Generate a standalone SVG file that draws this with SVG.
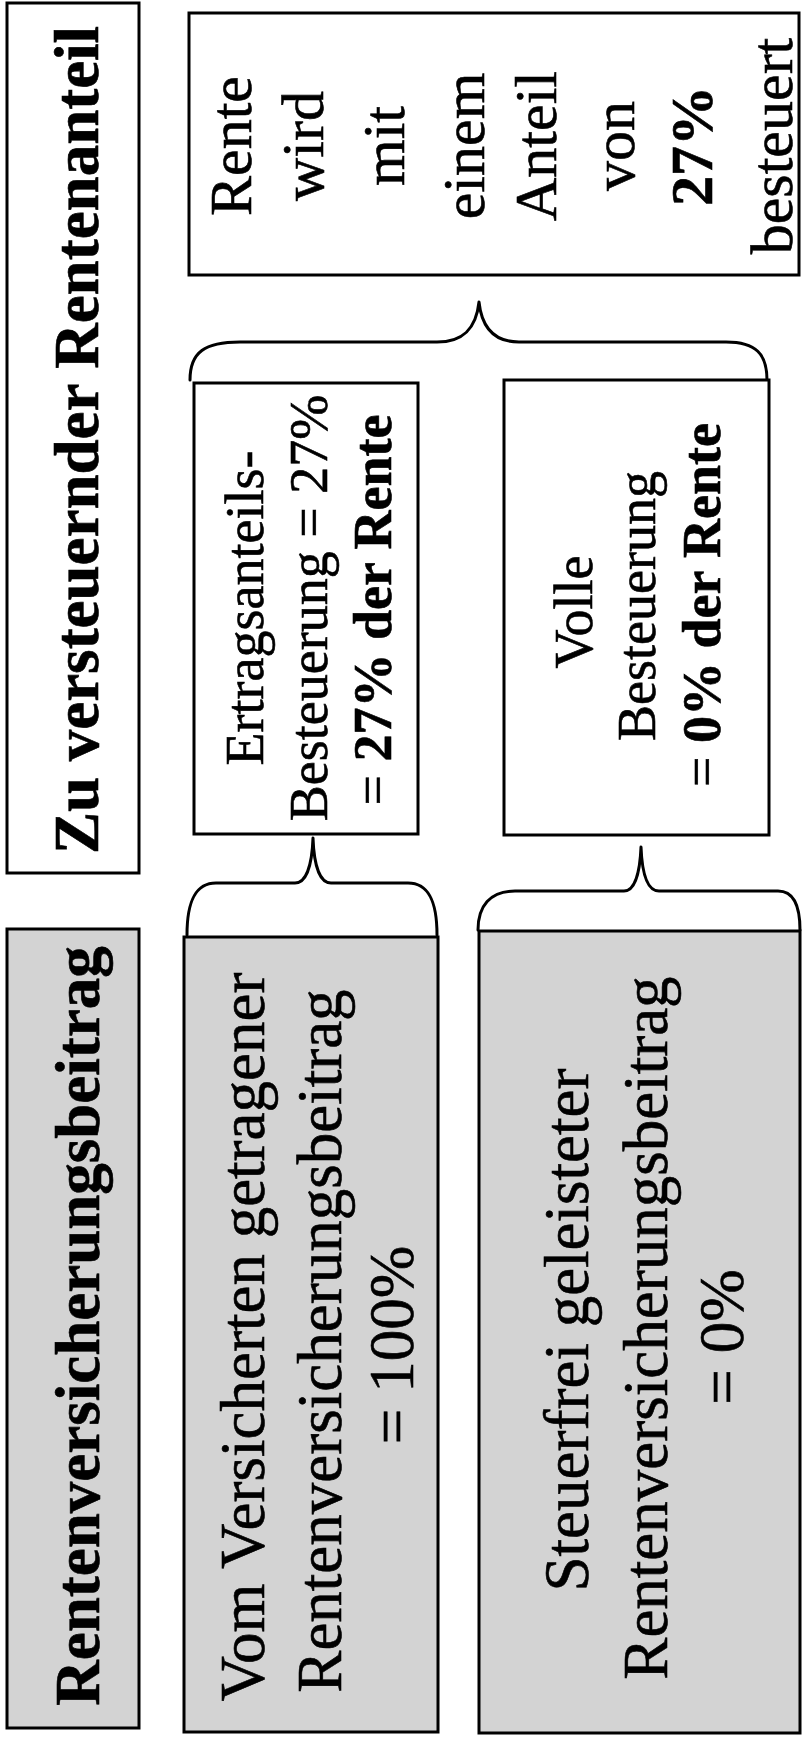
<svg xmlns="http://www.w3.org/2000/svg" width="802" height="1739" viewBox="0 0 802 1739">
  <style>
    .box { fill: #ffffff; stroke: #000000; stroke-width: 3; }
    .shade { fill: #d3d3d3; stroke: #000000; stroke-width: 3; }
    .brace { fill: none; stroke: #000000; stroke-width: 3; stroke-linecap: round; stroke-linejoin: round; }
    text { font-family: "Liberation Serif", "Times New Roman", serif; fill: #000000; text-anchor: middle; stroke: #000000; stroke-width: 0.6; }
    .title { font-size: 63px; font-weight: bold; }
    .big { font-size: 63px; }
    .mid { font-size: 60px; }
    .small { font-size: 54px; }
    .b { font-weight: bold; }
  </style>

  <rect width="802" height="1739" fill="#ffffff"/>

  <!-- curly braces joining the boxes -->
  <g id="connectors">
    <path class="brace" d="M190 380 C190 352 205 342 240 342 L437 342 C462 342 476 330 479 302 C482 330 496 342 519 342 L726 342 C756 342 767 354 767 380"/>
    <path class="brace" d="M187 935 C187 902 195 883 216 883 L295 883 C306 883 312 866 313 838 C314 866 320 883 331 883 L408 883 C429 883 437 902 437 935"/>
    <path class="brace" d="M478 930 C478 906 490 891 515 891 L624 891 C635 891 640 872 641 847 C642 872 647 891 659 891 L778 891 C794 891 800 906 800 930"/>
  </g>

  <g id="title-rentenanteil">
    <rect class="box" x="7" y="3" width="132" height="870"/>
    <text class="title" transform="translate(98,440) rotate(-90)">Zu versteuernder Rentenanteil</text>
  </g>

  <g id="rente-anteil">
    <rect class="box" x="189" y="13" width="610" height="262"/>
    <text class="mid" transform="translate(251,146) rotate(-90)">Rente</text>
    <text class="mid" transform="translate(323,146) rotate(-90)">wird</text>
    <text class="mid" transform="translate(404,146) rotate(-90)">mit</text>
    <text class="mid" transform="translate(484,146) rotate(-90)">einem</text>
    <text class="mid" transform="translate(556,146) rotate(-90)">Anteil</text>
    <text class="mid" transform="translate(634,146) rotate(-90)">von</text>
    <text class="mid b" transform="translate(712,146) rotate(-90)">27%</text>
    <text class="mid" transform="translate(792,146) rotate(-90)">besteuert</text>
  </g>

  <g id="ertragsanteil">
    <rect class="box" x="194" y="383" width="224" height="451"/>
    <text class="small" transform="translate(263,608) rotate(-90)">Ertragsanteils-</text>
    <text class="small" transform="translate(327,608) rotate(-90)">Besteuerung = 27%</text>
    <text class="small" transform="translate(391,610) rotate(-90)">= <tspan class="b">27% der Rente</tspan></text>
  </g>

  <g id="volle-besteuerung">
    <rect class="box" x="504" y="380" width="265" height="455"/>
    <text class="small" transform="translate(592,612) rotate(-90)">Volle</text>
    <text class="small" transform="translate(655,606) rotate(-90)">Besteuerung</text>
    <text class="small" transform="translate(720,605) rotate(-90)">= <tspan class="b">0% der Rente</tspan></text>
  </g>

  <g id="title-beitrag">
    <rect class="shade" x="7" y="929" width="132" height="799"/>
    <text class="title" transform="translate(99,1326) rotate(-90)">Rentenversicherungsbeitrag</text>
  </g>

  <g id="beitrag-versicherter">
    <rect class="shade" x="184" y="937" width="254" height="795"/>
    <text class="big" transform="translate(264,1337) rotate(-90)">Vom Versicherten getragener</text>
    <text class="big" transform="translate(341,1341) rotate(-90)">Rentenversicherungsbeitrag</text>
    <text class="big" transform="translate(413,1345) rotate(-90)">= 100%</text>
  </g>

  <g id="beitrag-steuerfrei">
    <rect class="shade" x="479" y="931" width="321" height="802"/>
    <text class="big" transform="translate(588,1330) rotate(-90)">Steuerfrei geleisteter</text>
    <text class="big" transform="translate(667,1328) rotate(-90)">Rentenversicherungsbeitrag</text>
    <text class="big" transform="translate(743,1337) rotate(-90)">= 0%</text>
  </g>
</svg>
